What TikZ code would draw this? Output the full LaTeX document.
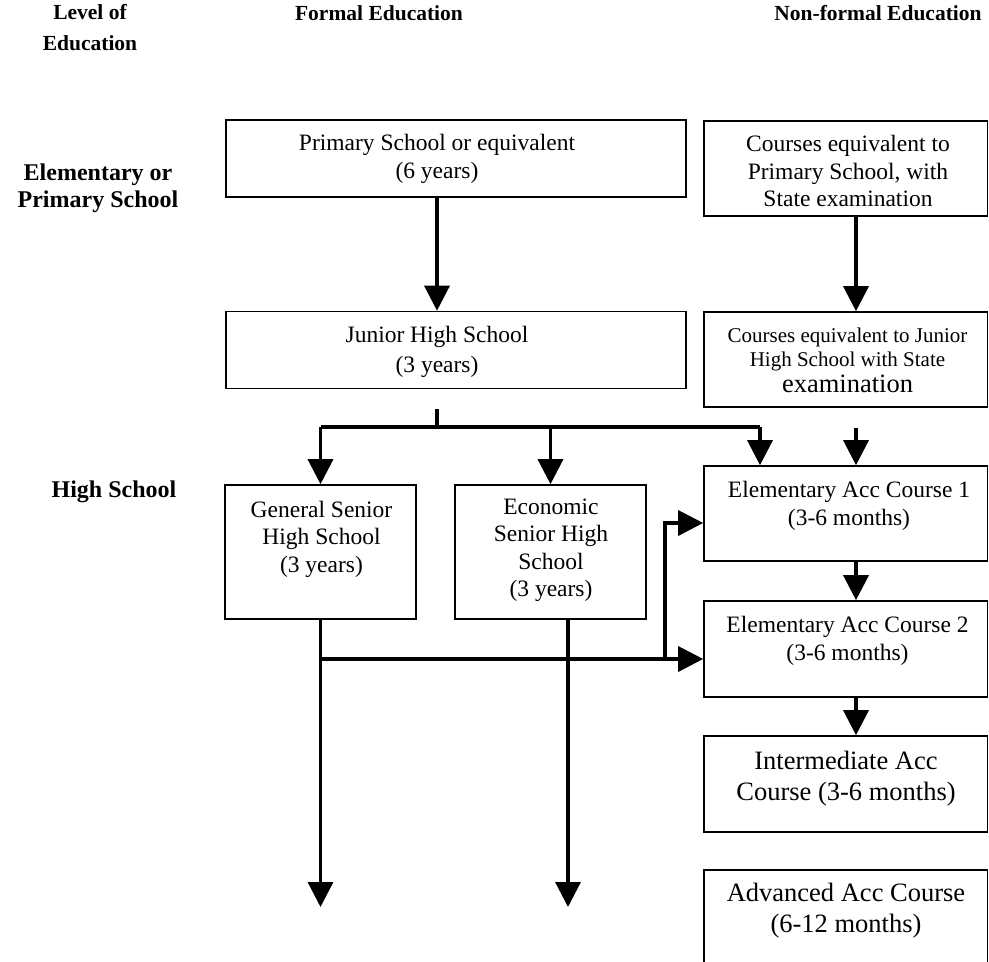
\documentclass[tikz,border=0pt]{standalone}
\usepackage{fontspec}
\setmainfont{Liberation Serif}
\usetikzlibrary{arrows.meta}
\tikzset{
  box/.style={draw, line width=1.6pt, inner sep=0pt, minimum width=#1},
  txt/.style={align=center, inner sep=0pt, font=\fontsize{23.5}{27.5}\selectfont},
  bigtxt/.style={align=center, inner sep=0pt, font=\fontsize{26.5}{31}\selectfont},
  head/.style={align=center, inner sep=0pt, font=\bfseries\fontsize{21.5}{31}\selectfont},
  lab/.style={align=center, inner sep=0pt, font=\bfseries\fontsize{24}{27}\selectfont},
  conn/.style={line width=3.3pt},
  arr/.style={conn, -{Triangle[width=25pt,length=25pt]}},
}
\begin{document}
\begin{tikzpicture}[x=1pt,y=-1pt]
\clip (0,0) rectangle (989,962);
\useasboundingbox (0,0) rectangle (989,962);

% headers
\node[head] (hlevel) at (90,28) {Level of\\Education};
\node[head] (hformal) at (379,13) {Formal Education};
\node[head] (hnon) at (878,13) {Non-formal Education};
\node[lab] (lelem) at (98,188) {Elementary or\\Primary School};
\node[lab] (lhigh) at (114,492) {High School};

% boxes
\node[box=460pt, minimum height=77pt] (primary) at (456,158.5) {};
\node[box=283.5pt, minimum height=95pt] (cprim) at (845.75,168.5) {};
\node[box=460pt, minimum height=77pt] (junior) at (456,350) {};
\node[box=283.5pt, minimum height=95pt] (cjun) at (845.75,359.5) {};
\node[box=191pt, minimum height=134pt] (general) at (320.5,552) {};
\node[box=191pt, minimum height=134pt] (econ) at (550.5,552) {};
\node[box=283.5pt, minimum height=95pt] (acc1) at (845.75,513.5) {};
\node[box=283.5pt, minimum height=96pt] (acc2) at (845.75,649) {};
\node[box=283.5pt, minimum height=96pt] (inter) at (845.75,784) {};
\node[box=283.5pt, minimum height=120pt] (adv) at (845.75,930) {};

% box texts
\node[txt] (primary-t) at (437,159) {Primary School or equivalent\\(6 years)};
\node[txt] (cprim-t) at (848,171) {Courses equivalent to\\Primary School, with\\State examination};
\node[txt, font=\fontsize{23.5}{29.5}\selectfont] (junior-t) at (437,352) {Junior High School\\(3 years)};
\node[align=center, inner sep=0pt, font=\fontsize{21}{24}\selectfont] (cjun-t) at (847.5,360)
  {Courses equivalent to Junior\\High School with State\\[2pt]
   \fontsize{26.5}{30}\selectfont examination};
\node[txt] (general-t) at (321.5,539) {General Senior\\High School\\(3 years)};
\node[txt] (econ-t) at (551,550) {Economic\\Senior High\\School\\(3 years)};
\node[txt] (acc1-t) at (849,506) {Elementary Acc Course 1\\(3-6 months)};
\node[txt] (acc2-t) at (847.5,641) {Elementary Acc Course 2\\(3-6 months)};
\node[bigtxt] (inter-t) at (846,779) {Intermediate Acc\\Course (3-6 months)};
\node[bigtxt] (adv-t) at (846,911) {Advanced Acc Course\\(6-12 months)};

% helper coordinates
\coordinate (xa) at (437,0);
\coordinate (xr) at (856,0);
\coordinate (xn) at (760,0);
\coordinate (xe) at (568,0);
\coordinate (xb) at (665,0);
\coordinate (hy) at (0,427);
\coordinate (hy2) at (0,659);
\coordinate (hy3) at (0,523);
\coordinate (endy) at (0,907);

% connectors
\draw[arr] (primary.south -| xa) -- (junior.north -| xa);
\draw[arr] (cprim.south -| xr) -- (cjun.north -| xr);
\draw[conn] ([yshift=-20pt]junior.south -| xa) -- (xa |- hy);
\draw[conn] (general.north |- hy) -- (xn |- hy);
\draw[arr] (general.north |- hy) -- (general.north);
\draw[arr] (econ.north |- hy) -- (econ.north);
\draw[arr] (xn |- hy) -- (acc1.north -| xn);
\draw[arr] ([yshift=-20pt]cjun.south -| xr) -- (acc1.north -| xr);
\draw[arr] (acc1.south -| xr) -- (acc2.north -| xr);
\draw[arr] (acc2.south -| xr) -- (inter.north -| xr);
\draw[arr] (general.south) -- (general.south |- endy);
\draw[arr] (econ.south -| xe) -- (xe |- endy);
\draw[arr] (general.south |- hy2) -- (acc2.west |- hy2);
\draw[arr] (xb |- hy2) -- (xb |- hy3) -- (acc1.west |- hy3);
\end{tikzpicture}
\end{document}
